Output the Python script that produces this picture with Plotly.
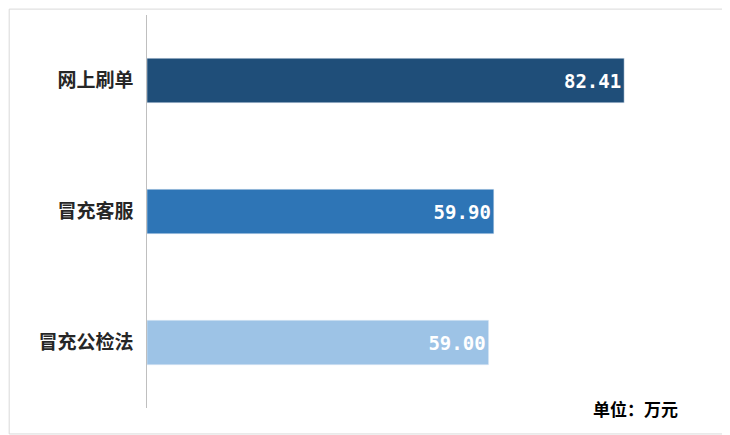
import plotly.graph_objects as go

categories = ["网上刷单", "冒充客服", "冒充公检法"]
values = [82.41, 59.90, 59.00]
colors = ["#1F4E79", "#2E75B6", "#9DC3E6"]

fig = go.Figure()
fig.add_trace(go.Bar(
    y=categories, x=values, orientation="h",
    marker_color=colors, width=0.34,
    text=[f"{v:.2f}" for v in values], textposition="inside",
    insidetextanchor="end", textangle=0,
    textfont=dict(color="white", size=19, family="DejaVu Sans Mono", weight="bold"),
))

fig.update_layout(
    width=722, height=427,
    margin=dict(l=139, r=4, t=7, b=27),
    plot_bgcolor="white", paper_bgcolor="white",
    showlegend=False,
    font=dict(family="Noto Sans CJK SC", color="#333333"),
    xaxis=dict(range=[0, 100], visible=False),
    yaxis=dict(autorange="reversed", showline=True,
               linecolor="#BFBFBF", linewidth=1, ticks="", ticklen=0,
               ticksuffix="  ",
               tickfont=dict(size=19, color="#262626", weight="bold")),
    annotations=[dict(text="<b>单位：万元</b>", xref="paper", yref="paper",
                      x=0.92, y=0.0, xanchor="right", yanchor="middle",
                      showarrow=False, font=dict(size=17, color="#000000"))],
    shapes=[dict(type="rect", xref="paper", yref="paper",
                 x0=-0.238, x1=1.003, y0=-0.066, y1=1.015,
                 line=dict(color="#D9D9D9", width=1))],
)

fig.write_html("out.html")
